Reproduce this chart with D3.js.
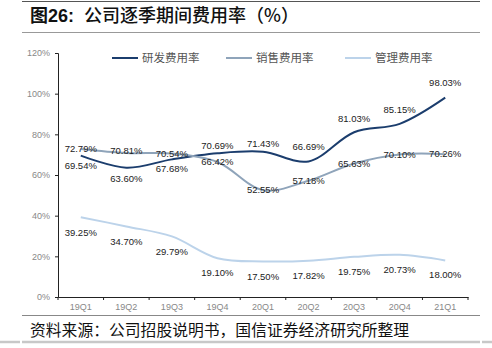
<!DOCTYPE html>
<html><head><meta charset="utf-8">
<script src="https://cdn.jsdelivr.net/npm/d3@7"></script>
<style>body{margin:0;background:#fff}svg{display:block}</style>
</head><body>
<svg id="c" width="492" height="348"></svg>
<script>
const categories = ["19Q1","19Q2","19Q3","19Q4","20Q1","20Q2","20Q3","20Q4","21Q1"];
const seriesNames = ["研发费用率","销售费用率","管理费用率"];
const rdValues = [69.54,63.60,67.68,70.69,71.43,66.69,81.03,85.15,98.03];
const salesValues = [72.79,70.81,70.54,66.42,52.55,57.18,65.63,70.10,70.26];
const adminValues = [39.25,34.70,29.79,19.10,17.50,17.82,19.75,20.73,18.00];
const yTicks = [0,20,40,60,80,100,120];
const titlePrefix = "图26:";
const titleText = "公司逐季期间费用率（%）";
const sourceText = "资料来源：公司招股说明书，国信证券经济研究所整理";

// label vertical offsets (layout, not data)
const rdLabelDy = [10.5,11,9,-8,-8,-15,-14,-14.5,-14.5];
const salesLabelDy = [0,-2,0,0,0,0,0,0,0];
const adminLabelDy = [15,15,15,15,15,15,15,14.5,14.5];

const colors = ["#1B3D6D","#8FA4BA","#BCD3EA"];
const svg = d3.select("#c");
const m = {left:58, right:468, top:53, bottom:297};

// title area
svg.append("line").attr("x1",22).attr("x2",480).attr("y1",1.5).attr("y2",1.5).attr("stroke","#555").attr("stroke-width",1);
svg.append("text").attr("x",30).attr("y",21.5).attr("font-family","'Liberation Sans','Noto Sans CJK SC',sans-serif")
  .attr("font-weight","bold").attr("font-size",18).attr("fill","#111").text(titlePrefix);
svg.append("text").attr("x",84).attr("y",21.5).attr("font-family","'Noto Sans CJK SC',sans-serif")
  .attr("font-weight",500).attr("font-size",18).attr("fill","#111").text(titleText);
svg.append("line").attr("x1",22).attr("x2",480).attr("y1",32.5).attr("y2",32.5).attr("stroke","#999").attr("stroke-width",1.2);

const x = d3.scaleBand().domain(categories).range([m.left,m.right]);
const y = d3.scaleLinear().domain([0,120]).range([m.bottom,m.top]);

// y axis
const yAxis = svg.append("g").attr("transform",`translate(${m.left},0)`)
  .call(d3.axisLeft(y).tickValues(yTicks).tickFormat(d=>d+"%").tickSize(3).tickPadding(5));
yAxis.select(".domain").attr("stroke","#222");
yAxis.selectAll(".tick line").attr("stroke","#222");
yAxis.selectAll("text").attr("font-family","'Liberation Sans',Arial,sans-serif").attr("font-size",9).attr("fill","#888");

// x axis
const xAxis = svg.append("g").attr("transform",`translate(0,${m.bottom})`)
  .call(d3.axisBottom(x).tickSize(0).tickPadding(7));
xAxis.select(".domain").attr("stroke","#222");
xAxis.selectAll("text").attr("font-family","'Liberation Sans',Arial,sans-serif").attr("font-size",9).attr("fill","#888");
const bounds = categories.map(c=>x(c)).concat([m.right]);
svg.append("g").selectAll("line").data(bounds).join("line")
  .attr("x1",d=>d).attr("x2",d=>d).attr("y1",m.bottom).attr("y2",m.bottom+3).attr("stroke","#222");

// lines
const series = [rdValues,salesValues,adminValues];
const dys = [rdLabelDy,salesLabelDy,adminLabelDy];
const line = d3.line().x((d,i)=>x(categories[i])+x.bandwidth()/2).y(d=>y(d)).curve(d3.curveCatmullRom.alpha(0.5));
series.forEach((vals,k)=>{
  svg.append("path").attr("d",line(vals)).attr("fill","none").attr("stroke",colors[k]).attr("stroke-width",2);
});
series.forEach((vals,k)=>{
  svg.append("g").selectAll("text").data(vals).join("text")
    .attr("x",(d,i)=>x(categories[i])+x.bandwidth()/2)
    .attr("y",(d,i)=>y(d)+dys[k][i])
    .attr("dy","0.35em").attr("text-anchor","middle")
    .attr("font-family","'Liberation Sans',Arial,sans-serif").attr("font-size",9.5).attr("fill","#222")
    .text(d=>d.toFixed(2)+"%");
});

// legend
const legX = [112,226,345];
seriesNames.forEach((n,k)=>{
  svg.append("line").attr("x1",legX[k]).attr("x2",legX[k]+26).attr("y1",58).attr("y2",58)
    .attr("stroke",colors[k]).attr("stroke-width",2);
  svg.append("text").attr("x",legX[k]+30).attr("y",58).attr("dy","0.36em")
    .attr("font-family","'Noto Sans CJK SC',sans-serif").attr("font-size",11.5).attr("fill","#555").text(n);
});

// bottom
svg.append("line").attr("x1",22).attr("x2",480).attr("y1",315.5).attr("y2",315.5).attr("stroke","#888").attr("stroke-width",1.2);
svg.append("text").attr("x",30).attr("y",330).attr("dy","0.36em")
  .attr("font-family","'Noto Sans CJK SC',sans-serif").attr("font-size",15.8).attr("fill","#111").text(sourceText);
[[0,20],[22,480],[482,492]].forEach(s=>{
  svg.append("line").attr("x1",s[0]).attr("x2",s[1]).attr("y1",342).attr("y2",342).attr("stroke","#c8c8c8").attr("stroke-width",2.5);
});
</script>
</body></html>
